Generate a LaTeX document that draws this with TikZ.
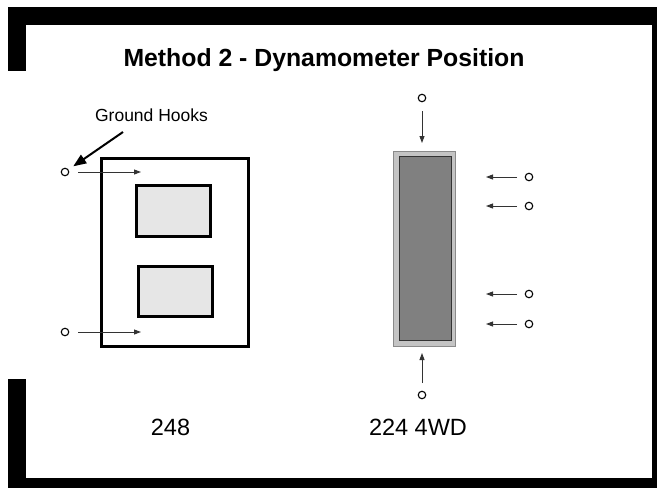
\documentclass[tikz,border=0pt]{standalone}
\usepackage{fontspec}
\setmainfont{Liberation Sans}
\usetikzlibrary{arrows.meta}
\definecolor{lightbox}{HTML}{E6E6E6}
\definecolor{dynoout}{HTML}{C4C4C4}
\definecolor{dynoedge}{HTML}{8A8A8A}
\definecolor{dynoin}{HTML}{808080}
\definecolor{dynoinedge}{HTML}{333333}
\definecolor{arrgray}{HTML}{333333}
\begin{document}
\begin{tikzpicture}[x=1pt,y=-1pt,
  framebar/.style={fill=black},
  hook/.style={circle,draw=black,line width=1.1pt,fill=white,minimum size=7.5pt,inner sep=0pt},
  smallarrow/.style={draw=arrgray,line width=0.9pt,-{Triangle[length=7pt,width=5pt]}},
  bigarrow/.style={draw=black,line width=2pt,-{Triangle[length=13pt,width=10pt]}},
  heavybox/.style={draw=black,line width=3pt},
  label/.style={inner sep=0pt,font=\fontsize{23.5}{26}\selectfont}
]
\useasboundingbox (0,0) rectangle (657,488);
% frame
\fill[framebar] (8,7) rectangle (657,25);
\fill[framebar] (8,7) rectangle (26,71);
\fill[framebar] (8,379) rectangle (26,488);
\fill[framebar] (8,478) rectangle (657,488);
\fill[framebar] (652,7) rectangle (657,488);
% title
\node[inner sep=0pt,anchor=base,font=\fontsize{24.8}{28}\selectfont\bfseries] (title) at (324,66) {Method 2 - Dynamometer Position};
% left vehicle
\node[heavybox,minimum width=147pt,minimum height=188pt,inner sep=0pt] (veh1) at (174.5,252) {};
\node[heavybox,fill=lightbox,minimum width=74pt,minimum height=51pt,inner sep=0pt] (win1) at (173,210.5) {};
\node[heavybox,fill=lightbox,minimum width=74pt,minimum height=50pt,inner sep=0pt] (win2) at (175,291) {};
% left hooks
\node[hook] (h1) at (65,172) {};
\node[hook] (h2) at (65,332) {};
\coordinate (t1) at (141,172);
\coordinate (t2) at (141,332);
\draw[smallarrow] ([xshift=13pt]h1.center) -- (t1);
\draw[smallarrow] ([xshift=13pt]h2.center) -- (t2);
% ground hooks label
\node[inner sep=0pt,font=\fontsize{17.5}{20}\selectfont] (gh) at (151.5,115) {Ground Hooks};
\coordinate (ghs) at (123,132);
\draw[bigarrow,shorten >=10pt] (ghs) -- (h1.center);
% right vehicle
\node[draw=dynoedge,line width=1pt,fill=dynoout,minimum width=62pt,minimum height=195pt,inner sep=0pt] (veh2) at (424,248.5) {};
\node[draw=dynoinedge,line width=0.8pt,fill=dynoin,minimum width=52pt,minimum height=184pt,inner sep=0pt] (dyno) at (425,248) {};
% right hooks
\node[hook] (h3) at (422,98) {};
\node[hook] (h4) at (422,395) {};
\coordinate (t3) at (422,143);
\coordinate (t4) at (422,353);
\draw[smallarrow] ([yshift=-13pt]h3.center) -- (t3);
\draw[smallarrow] ([yshift=12pt]h4.center) -- (t4);
\node[hook] (h5) at (529,177) {};
\node[hook] (h6) at (529,206) {};
\node[hook] (h7) at (529,294) {};
\node[hook] (h8) at (529,324) {};
\coordinate (t5) at (486,177);
\coordinate (t6) at (486,206);
\coordinate (t7) at (486,294);
\coordinate (t8) at (486,324);
\draw[smallarrow] ([xshift=-12pt]h5.center) -- (t5);
\draw[smallarrow] ([xshift=-12pt]h6.center) -- (t6);
\draw[smallarrow] ([xshift=-12pt]h7.center) -- (t7);
\draw[smallarrow] ([xshift=-12pt]h8.center) -- (t8);
% labels
\node[label] (l1) at (170.5,427) {248};
\node[label] (l2) at (418,427) {224 4WD};
\end{tikzpicture}
\end{document}
